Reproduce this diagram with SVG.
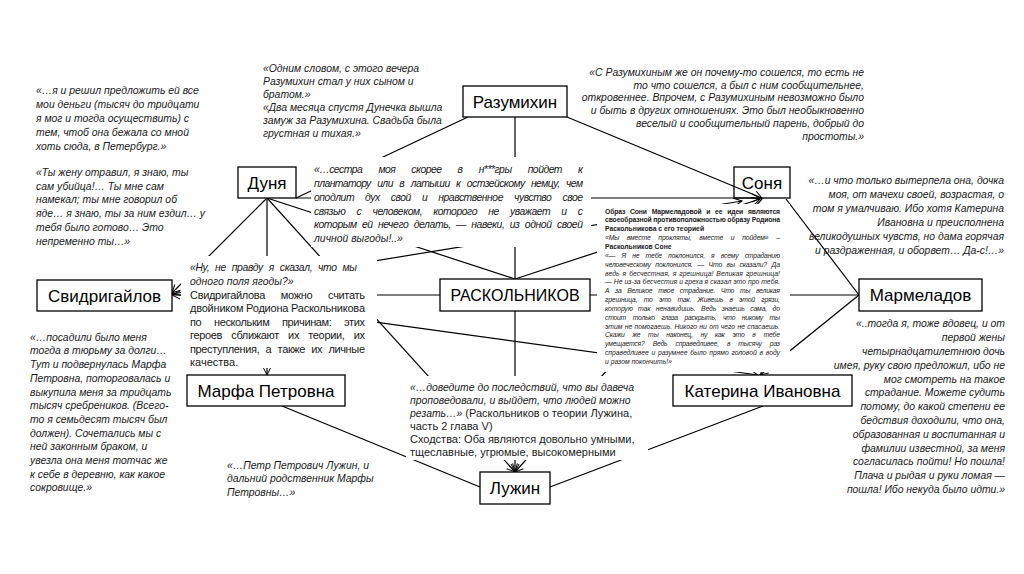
<svg xmlns="http://www.w3.org/2000/svg" width="1024" height="574" viewBox="0 0 1024 574">
<defs>
<marker id="arr" markerWidth="10" markerHeight="10" refX="9" refY="5" orient="auto" markerUnits="userSpaceOnUse"><path d="M1,1 L9,5 L1,9" fill="none" stroke="#000" stroke-width="1"/></marker>
<style>
.ln{stroke:#000;stroke-width:1.2;fill:none}
.box{fill:#fff;stroke:#000;stroke-width:1.3}
.lbl{font-family:"Liberation Sans",Arial,sans-serif;font-size:17px;fill:#000;text-anchor:middle}
.q{font-family:"Liberation Sans",Arial,sans-serif;font-size:10.4px;font-style:italic;fill:#1a1a1a}
.r{font-family:"Liberation Sans",Arial,sans-serif;font-size:11px;font-style:normal;fill:#1a1a1a}
.s{font-family:"Liberation Sans",Arial,sans-serif;font-size:6.8px;fill:#1a1a1a}
.b{font-weight:bold}
.i{font-style:italic}
.e{text-anchor:end}
.bg{fill:#fff}
</style>
</defs>
<rect width="1024" height="574" fill="#fff"/>

<g id="connectors" class="ln">
<line x1="515" y1="117" x2="515" y2="279"/>
<line x1="468" y1="117" x2="296" y2="198"/>
<line x1="567" y1="117" x2="762" y2="198" marker-end="url(#arr)"/>
<line x1="296" y1="198" x2="760" y2="198" marker-end="url(#arr)"/>
<line x1="267" y1="198" x2="515" y2="279"/>
<line x1="267" y1="198" x2="172" y2="293" marker-end="url(#arr)"/>
<line x1="267" y1="198" x2="267" y2="375" marker-end="url(#arr)"/>
<line x1="267" y1="198" x2="515" y2="472" marker-end="url(#arr)"/>
<line x1="172" y1="294" x2="742" y2="201" marker-end="url(#arr)"/>
<line x1="440" y1="295" x2="172" y2="295" marker-end="url(#arr)"/>
<line x1="172" y1="294" x2="758" y2="375" marker-end="url(#arr)"/>
<line x1="515" y1="279" x2="760" y2="199" marker-end="url(#arr)"/>
<line x1="590" y1="295" x2="859" y2="295"/>
<line x1="515" y1="311" x2="515" y2="472" marker-end="url(#arr)"/>
<line x1="786" y1="199" x2="859" y2="295"/>
<line x1="859" y1="295" x2="760" y2="375" marker-end="url(#arr)"/>
<line x1="762" y1="199" x2="515" y2="472" marker-end="url(#arr)"/>
<line x1="282" y1="406" x2="480" y2="487"/>
<line x1="763" y1="406" x2="550" y2="487"/>
</g>

<g id="quote-svidrigailov-dunya" class="q">
<text x="36" y="94">«…я и решил предложить ей все</text>
<text x="36" y="108">мои деньги (тысяч до тридцати</text>
<text x="36" y="122">я мог и тогда осуществить) с</text>
<text x="36" y="135.5">тем, чтоб она бежала со мной</text>
<text x="36" y="149.5">хоть сюда, в Петербург.»</text>
<text x="36" y="175.5">«Ты жену отравил, я знаю, ты</text>
<text x="36" y="189.5">сам убийца!… Ты мне сам</text>
<text x="36" y="203">намекал; ты мне говорил об</text>
<text x="36" y="217">яде… я знаю, ты за ним ездил… у</text>
<text x="36" y="230.5">тебя было готово… Это</text>
<text x="36" y="244.5">непременно ты…»</text>
</g>

<g id="quote-razumikhin" class="q">
<text x="263" y="72">«Одним словом, с этого вечера</text>
<text x="263" y="85">Разумихин стал у них сыном и</text>
<text x="263" y="98">братом.»</text>
<text x="263" y="111">«Два месяца спустя Дунечка вышла</text>
<text x="263" y="124">замуж за Разумихина. Свадьба была</text>
<text x="263" y="137">грустная и тихая.»</text>
</g>

<g id="quote-razumikhin-right" class="q e">
<text x="864" y="76">«С Разумихиным же он почему-то сошелся, то есть не</text>
<text x="864" y="89">то что сошелся, а был с ним сообщительнее,</text>
<text x="864" y="101">откровеннее. Впрочем, с Разумихиным невозможно было</text>
<text x="864" y="114">и быть в других отношениях. Это был необыкновенно</text>
<text x="864" y="127">веселый и сообщительный парень, добрый до</text>
<text x="864" y="140">простоты.»</text>
</g>

<g id="quote-dunya">
<rect class="bg" x="311" y="157" width="280" height="90"/>
<g class="q">
<text x="314" y="173" word-spacing="13.7" textLength="269" lengthAdjust="spacing">«…сестра моя скорее в н***гры пойдет к</text>
<text x="314" y="187" word-spacing="4.1" textLength="269" lengthAdjust="spacing">плантатору или в латыши к остзейскому немцу, чем</text>
<text x="314" y="201" word-spacing="8.6" textLength="269" lengthAdjust="spacing">оподлит дух свой и нравственное чувство свое</text>
<text x="314" y="215" word-spacing="8.7" textLength="269" lengthAdjust="spacing">связью с человеком, которого не уважает и с</text>
<text x="314" y="228" word-spacing="2.8" textLength="269" lengthAdjust="spacing">которым ей нечего делать, — навеки, из одной своей</text>
<text x="314" y="242">личной выгоды!..»</text>
</g>
</g>

<g id="text-sonya">
<rect class="bg" x="597" y="204" width="193" height="168"/>
<g class="s">
<text class="b" x="605" y="213.5" word-spacing="3" textLength="175" lengthAdjust="spacing">Образ Сони Мармеладовой и ее идеи являются</text>
<text class="b" x="605" y="222.4" textLength="175" lengthAdjust="spacing">своеобразной противоположностью образу Родиона</text>
<text class="b" x="605" y="231.2">Раскольникова с его теорией</text>
<text class="i" x="605" y="240" word-spacing="6" textLength="175" lengthAdjust="spacing">«Мы вместе прокляты, вместе и пойдем» –</text>
<text class="b" x="605" y="248.9">Раскольников Соне</text>
<text class="i" x="605" y="257.8" word-spacing="4.5" textLength="175" lengthAdjust="spacing">«— Я не тебе поклонился, я всему страданию</text>
<text class="i" x="605" y="266.6" word-spacing="2.7" textLength="175" lengthAdjust="spacing">человеческому поклонился. — Что вы сказали? Да</text>
<text class="i" x="605" y="275.5" word-spacing="1" textLength="175" lengthAdjust="spacing">ведь я бесчестная, я грешница! Великая грешница!</text>
<text class="i" x="605" y="284.3" textLength="175" lengthAdjust="spacing">— Не из-за бесчестия и греха я сказал это про тебя.</text>
<text class="i" x="605" y="293.2" word-spacing="4" textLength="175" lengthAdjust="spacing">А за Великое твое страдание. Что ты великая</text>
<text class="i" x="605" y="302" word-spacing="4.5" textLength="175" lengthAdjust="spacing">грешница, то это так. Живешь в этой грязи,</text>
<text class="i" x="605" y="310.9" word-spacing="3.7" textLength="175" lengthAdjust="spacing">которую так ненавидишь. Ведь знаешь сама, до</text>
<text class="i" x="605" y="319.7" word-spacing="5" textLength="175" lengthAdjust="spacing">стоит только глаза раскрыть, что никому ты</text>
<text class="i" x="605" y="328.6" word-spacing="0.5" textLength="175" lengthAdjust="spacing">этим не помогаешь. Никого ни от чего не спасаешь.</text>
<text class="i" x="605" y="337.4" word-spacing="6" textLength="175" lengthAdjust="spacing">Скажи же ты наконец, ну как это в тебе</text>
<text class="i" x="605" y="346.3" word-spacing="6.4" textLength="175" lengthAdjust="spacing">умещается? Ведь справедливее, в тысячу раз</text>
<text class="i" x="605" y="355.2" word-spacing="1" textLength="175" lengthAdjust="spacing">справедливее и разумнее было прямо головой в воду</text>
<text class="i" x="605" y="364">и разом покончить!»</text>
</g>
</g>

<g id="quote-marmeladov-sonya" class="q e">
<text x="1004" y="184">«…и что только вытерпела она, дочка</text>
<text x="1004" y="198">моя, от мачехи своей, возрастая, о</text>
<text x="1004" y="212">том я умалчиваю. Ибо хотя Катерина</text>
<text x="1004" y="226">Ивановна и преисполнена</text>
<text x="1004" y="240">великодушных чувств, но дама горячая</text>
<text x="1004" y="254">и раздраженная, и оборвет… Да-с!…»</text>
</g>

<g id="text-svidrigailov">
<rect class="bg" x="181" y="256" width="196" height="112"/>
<text class="q" x="190" y="271" word-spacing="3.3" textLength="167" lengthAdjust="spacing">«Ну, не правду я сказал, что мы</text>
<text class="q" x="190" y="285">одного поля ягоды?»</text>
<g class="r">
<text x="190" y="298.5" word-spacing="13" textLength="175" lengthAdjust="spacing">Свидригайлова можно считать</text>
<text x="190" y="312" textLength="175" lengthAdjust="spacing">двойником Родиона Раскольникова</text>
<text x="190" y="325.5" word-spacing="10" textLength="175" lengthAdjust="spacing">по нескольким причинам: этих</text>
<text x="190" y="339" word-spacing="6.5" textLength="175" lengthAdjust="spacing">героев сближают их теории, их</text>
<text x="190" y="352.5" word-spacing="3.5" textLength="175" lengthAdjust="spacing">преступления, а также их личные</text>
<text x="190" y="366">качества.</text>
</g>
</g>

<g id="quote-marfa" class="q">
<text x="30" y="340.7">«…посадили было меня</text>
<text x="30" y="354.4">тогда в тюрьму за долги…</text>
<text x="30" y="368.1">Тут и подвернулась Марфа</text>
<text x="30" y="381.8">Петровна, поторговалась и</text>
<text x="30" y="395.5">выкупила меня за тридцать</text>
<text x="30" y="409.2">тысяч сребреников. (Всего-</text>
<text x="30" y="422.9">то я семьдесят тысяч был</text>
<text x="30" y="436.6">должен). Сочетались мы с</text>
<text x="30" y="450.3">ней законным браком, и</text>
<text x="30" y="464">увезла она меня тотчас же</text>
<text x="30" y="477.7">к себе в деревню, как какое</text>
<text x="30" y="491.4">сокровище.»</text>
</g>

<g id="quote-marmeladov" class="q e">
<text x="1005" y="327.3">«..тогда я, тоже вдовец, и от</text>
<text x="1005" y="341.1">первой жены</text>
<text x="1005" y="354.9">четырнадцатилетнюю дочь</text>
<text x="1005" y="368.7">имея, руку свою предложил, ибо не</text>
<text x="1005" y="382.5">мог смотреть на такое</text>
<text x="1005" y="396.3">страдание. Можете судить</text>
<text x="1005" y="410.1">потому, до какой степени ее</text>
<text x="1005" y="423.9">бедствия доходили, что она,</text>
<text x="1005" y="437.7">образованная и воспитанная и</text>
<text x="1005" y="451.5">фамилии известной, за меня</text>
<text x="1005" y="465.3">согласилась пойти! Но пошла!</text>
<text x="1005" y="479.1">Плача и рыдая и руки ломая —</text>
<text x="1005" y="492.9">пошла! Ибо некуда было идти.»</text>
</g>

<g id="text-luzhin">
<rect class="bg" x="406" y="376" width="242" height="84"/>
<text class="q" x="410" y="390.7">«…доведите до последствий, что вы давеча</text>
<text class="q" x="410" y="403.7">проповедовали, и выйдет, что людей можно</text>
<text x="410" y="416.7"><tspan class="q">резать…»</tspan><tspan class="r"> (Раскольников о теории Лужина,</tspan></text>
<text class="r" x="410" y="429.7">часть 2 глава V)</text>
<text class="r" x="410" y="442.7">Сходства: Оба являются довольно умными,</text>
<text class="r" x="410" y="455.7">тщеславные, угрюмые, высокомерными</text>
</g>

<g id="quote-luzhin-marfa" class="q">
<text x="227" y="469">«…Петр Петрович Лужин, и</text>
<text x="227" y="482.3">дальний родственник Марфы</text>
<text x="227" y="495.7">Петровны…»</text>
</g>

<g id="node-razumikhin"><rect class="box" x="463" y="86" width="104" height="31"/><text class="lbl" x="515" y="108">Разумихин</text></g>
<g id="node-dunya"><rect class="box" x="238" y="167" width="58" height="31"/><text class="lbl" x="267" y="189">Дуня</text></g>
<g id="node-sonya"><rect class="box" x="734" y="167" width="56" height="31" style="fill:none"/><text class="lbl" x="762" y="189">Соня</text></g>
<g id="node-svidrigailov"><rect class="box" x="37" y="280" width="135" height="31"/><text class="lbl" x="104.5" y="302">Свидригайлов</text></g>
<g id="node-raskolnikov"><rect class="box" x="440" y="279" width="150" height="32"/><text class="lbl" x="515" y="301" style="font-size:16px">РАСКОЛЬНИКОВ</text></g>
<g id="node-marmeladov"><rect class="box" x="859" y="279" width="123" height="32"/><text class="lbl" x="920.5" y="301">Мармеладов</text></g>
<g id="node-marfa"><rect class="box" x="187" y="375" width="158" height="31"/><text class="lbl" x="266" y="397">Марфа Петровна</text></g>
<g id="node-katerina"><rect class="box" x="673" y="375" width="179" height="31"/><text class="lbl" x="762.5" y="397">Катерина Ивановна</text></g>
<g id="node-luzhin"><rect class="box" x="480" y="472" width="70" height="32"/><text class="lbl" x="515" y="494">Лужин</text></g>
</svg>
